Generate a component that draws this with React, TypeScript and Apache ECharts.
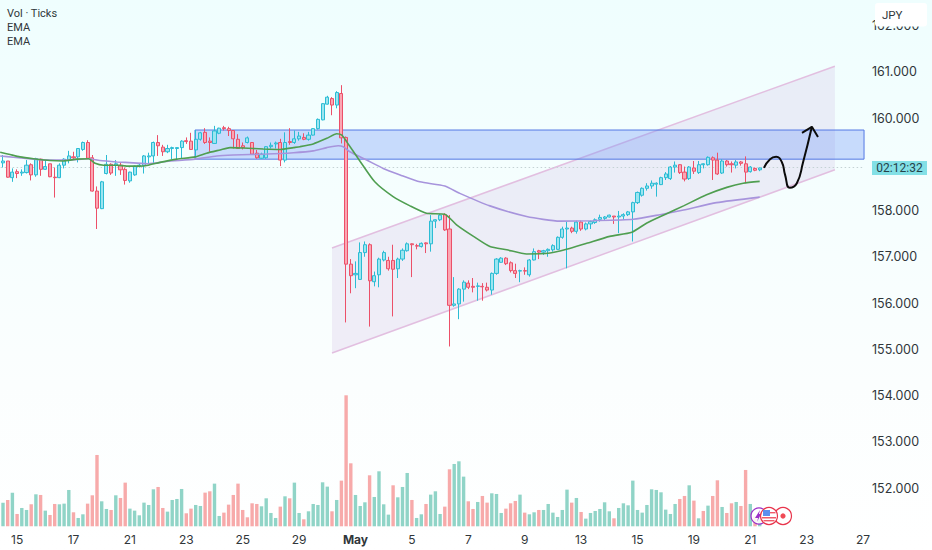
import React, { useEffect, useRef } from "react";
import * as echarts from "echarts";

// [open, close, low, high]
const candles: number[][] = [
[159.03,159.07,158.93,159.20],[159.07,158.72,158.71,159.07],[158.71,158.83,158.62,158.91],[158.84,158.80,158.70,158.89],[158.81,158.83,158.75,158.89],
[158.82,158.98,158.80,159.09],[158.99,158.77,158.65,159.02],[158.77,159.12,158.73,159.14],[159.11,158.89,158.75,159.12],[158.89,158.95,158.88,159.09],
[159.01,158.73,158.72,159.01],[158.72,158.71,158.28,158.93],[158.71,158.98,158.70,159.02],[158.98,159.11,158.91,159.13],[159.09,159.18,159.02,159.29],
[159.16,159.14,159.11,159.27],[159.16,159.34,159.04,159.35],[159.32,159.47,159.29,159.49],[159.47,159.13,159.12,159.52],[159.14,158.42,158.41,159.20],
[158.42,158.05,157.60,158.52],[158.04,158.62,158.03,158.64],[158.80,159.00,158.78,159.20],[159.00,158.81,158.77,159.02],[158.98,159.01,158.75,159.09],
[158.98,158.88,158.77,159.03],[158.89,158.65,158.56,158.93],[158.64,158.83,158.60,158.84],[158.77,158.96,158.75,158.97],[158.96,158.98,158.93,159.02],
[158.97,159.18,158.80,159.20],[159.16,159.18,159.02,159.25],[159.18,159.47,159.02,159.49],[159.47,159.40,159.18,159.63],[159.37,159.27,159.18,159.42],
[159.27,159.34,159.24,159.42],[159.34,159.36,159.11,159.38],[159.34,159.36,159.11,159.36],[159.36,159.50,159.13,159.52],[159.51,159.49,159.44,159.58],
[159.50,159.32,159.31,159.68],[159.31,159.54,159.15,159.74],[159.54,159.68,159.51,159.70],[159.69,159.47,159.44,159.78],[159.50,159.47,159.27,159.58],
[159.45,159.72,159.44,159.83],[159.67,159.78,159.65,159.79],[159.79,159.77,159.73,159.83],[159.77,159.73,159.61,159.81],[159.73,159.55,159.34,159.74],
[159.54,159.34,159.33,159.65],[159.40,159.36,159.32,159.47],[159.47,159.57,159.45,159.60],[159.47,159.22,159.20,159.48],[159.24,159.14,159.12,159.31],
[159.13,159.22,159.12,159.25],[159.14,159.38,159.12,159.39],[159.38,159.41,159.34,159.47],[159.44,159.46,159.34,159.49],[159.47,159.09,158.96,159.55],
[159.09,159.47,159.04,159.69],[159.49,159.47,159.42,159.78],[159.47,159.55,159.44,159.73],[159.55,159.61,159.51,159.70],[159.58,159.54,159.52,159.67],
[159.54,159.63,159.51,159.70],[159.63,159.77,159.62,159.78],[159.77,159.97,159.75,159.99],[159.96,160.31,159.95,160.32],[160.30,160.45,160.29,160.48],
[160.42,160.28,160.06,160.45],[160.28,160.55,160.21,160.58],[160.53,159.57,159.45,160.71],[159.58,156.84,155.58,159.60],[156.84,156.59,156.21,156.95],
[156.61,156.64,156.32,156.90],[156.51,157.09,156.50,157.31],[157.09,157.26,157.00,157.33],[157.26,156.48,155.49,157.29],[156.46,156.59,156.36,156.68],
[156.61,156.95,156.34,156.98],[156.93,157.09,156.90,157.13],[156.92,156.74,156.70,157.00],[156.92,156.73,155.71,157.26],[156.74,156.95,156.54,156.98],
[156.95,157.14,156.91,157.18],[157.13,157.28,157.11,157.31],[157.28,157.26,156.56,157.29],[157.24,157.23,157.16,157.28],[157.22,157.29,157.20,157.31],
[157.30,157.28,157.08,157.31],[157.28,157.77,157.11,157.90],[157.77,157.80,157.62,157.81],[157.80,157.90,157.77,157.93],[157.91,157.58,157.56,157.94],
[157.60,155.95,155.06,157.90],[155.95,155.98,155.92,156.56],[155.98,156.30,155.65,156.32],[156.30,156.45,156.03,156.49],[156.43,156.34,156.30,156.49],
[156.36,156.34,156.23,156.54],[156.36,156.37,156.05,156.44],[156.36,156.35,156.05,156.43],[156.34,156.28,156.25,156.44],[156.28,156.64,156.18,156.66],
[156.64,156.95,156.61,156.97],[156.88,156.97,156.87,156.99],[156.97,156.85,156.82,156.99],[156.87,156.70,156.66,156.90],[156.70,156.64,156.54,156.85],
[156.69,156.70,156.45,156.72],[156.70,156.69,156.61,156.77],[156.61,156.93,156.57,156.95],[156.93,157.11,156.92,157.18],[157.13,157.10,156.95,157.15],
[157.10,157.13,157.04,157.15],[157.13,157.16,157.00,157.18],[157.15,157.24,157.11,157.27],[157.16,157.42,157.15,157.44],[157.42,157.60,157.39,157.65],
[157.60,157.62,156.75,157.76],[157.62,157.55,157.51,157.65],[157.55,157.75,157.50,157.78],[157.75,157.60,157.56,157.78],[157.60,157.71,157.57,157.74],
[157.71,157.76,157.60,157.78],[157.74,157.80,157.71,157.83],[157.81,157.85,157.76,157.91],[157.83,157.86,157.78,157.88],[157.86,157.90,157.85,157.91],
[157.88,157.86,157.71,157.88],[157.86,157.88,157.51,157.99],[157.88,157.91,157.80,157.94],[157.91,157.97,157.88,157.99],[157.97,158.17,157.33,158.19],
[158.17,158.39,158.14,158.41],[158.33,158.48,158.30,158.50],[158.48,158.53,158.43,158.59],[158.53,158.59,158.47,158.65],[158.57,158.59,158.30,158.61],
[158.56,158.71,158.55,158.73],[158.71,158.79,158.66,158.83],[158.69,158.94,158.66,158.96],[158.94,158.98,158.82,159.06],[158.99,158.82,158.79,159.00],
[158.83,158.68,158.63,158.95],[158.69,158.94,158.66,158.96],[158.92,158.85,158.79,159.07],[158.82,158.99,158.79,159.07],[158.99,159.01,158.91,159.02],
[158.99,159.15,158.97,159.17],[159.14,159.09,158.66,159.17],[159.09,158.79,158.77,159.25],[158.81,159.07,158.79,159.11],[159.07,158.99,158.95,159.09],
[159.01,158.99,158.82,159.06],[158.98,159.05,158.91,159.09],[159.05,159.02,158.97,159.07],[159.01,158.83,158.59,159.17],[158.84,158.94,158.82,158.96],
[158.91,158.87,158.85,158.93],[158.88,158.92,158.85,158.93],
];

const volumes: number[] = [
71,79,101,37,55,49,66,96,94,47,34,67,66,68,109,42,25,36,68,93,214,75,52,49,93,85,131,53,47,33,71,64,111,118,55,44,79,82,112,39,53,64,61,101,105,128,31,41,65,94,128,49,27,69,67,60,84,40,25,59,90,84,131,40,21,45,67,64,132,119,45,79,137,393,189,94,61,72,153,88,165,66,35,123,87,
118,160,79,25,36,67,95,105,37,59,171,187,195,149,75,52,73,91,71,99,97,40,53,69,76,95,41,36,42,49,49,67,41,28,49,110,71,85,43,23,40,46,52,72,45,24,55,69,63,137,49,41,64,111,109,102,50,37,67,82,91,123,77,24,46,62,91,138,58,40,69,73,61,169,67,30,30,
];
// 1 = the volume bar is red
const volumeIsRed: number[] = [
0,1,0,1,0,0,1,0,1,0,1,1,0,0,0,1,0,0,1,1,1,0,0,1,0,1,1,0,0,0,0,0,0,1,1,0,0,0,0,1,1,0,0,1,1,0,0,1,1,1,1,1,1,1,1,0,0,0,0,1,0,1,0,0,1,0,0,0,0,0,1,0,1,1,1,0,0,0,1,0,0,0,0,1,0,
0,0,1,0,0,1,0,0,0,1,1,0,0,0,1,1,0,1,1,0,0,0,1,1,1,0,1,0,0,1,0,0,0,0,0,0,1,0,1,0,0,0,0,0,0,1,0,0,0,0,0,0,0,0,0,0,0,0,0,1,1,0,1,0,1,0,1,1,0,1,1,0,1,1,0,1,0,
];

const dayLabels = ["15","17","21","23","25","29","May","5","7","9","13","15","19","21","23","27"];
const barCount = 184;
const categories = Array.from({ length: barCount }, (_, i) => (i % 12 === 3 ? dayLabels[(i - 3) / 12] ?? "" : ""));

// [bar position, price]
const emaGreen: number[][] = [
[-0.6,159.26],[1.5,159.21],[3.6,159.16],[6.5,159.12],[10,159.08],[12.8,159.07],[15.7,159.11],[18.2,159.12],[19.6,159.02],[21.4,158.98],[24.2,158.98],[26.3,158.96],[29.1,158.96],[30.9,158.98],[33.4,159.04],[37,159.11],[40.9,159.16],[43.3,159.24],[46.2,159.31],[48.3,159.36],[51.1,159.35],[55.4,159.33],[59,159.32],[61.8,159.36],[63.2,159.38],[66,159.44],[68.9,159.56],[71,159.66],[72.1,159.63],[73.1,159.49],[76,159.06],[79.1,158.62],[83,158.30],[86.6,158.10],[90.1,157.94],[94,157.92],[96.5,157.69],[100.1,157.44],[103.6,157.22],[107.2,157.15],[111.4,157.06],[116.4,157.08],[119.9,157.16],[124.2,157.29],[129.1,157.44],[133.8,157.53],[137,157.73],[141.2,157.93],[144.8,158.10],[149.7,158.34],[154,158.50],[157.5,158.59],[161,158.63],
];
const emaPurple: number[][] = [
[-0.6,159.18],[2.2,159.15],[6.5,159.11],[10,159.09],[13.5,159.09],[18.2,159.12],[20.6,159.08],[24.2,159.05],[27.7,159.03],[30.9,159.01],[34.8,159.06],[40.9,159.11],[45.5,159.18],[49,159.20],[56.1,159.22],[61.8,159.25],[66,159.29],[68.9,159.36],[71.3,159.40],[72.4,159.38],[73.8,159.27],[77.4,159.09],[80.9,158.91],[84.5,158.77],[88.7,158.62],[94,158.53],[97.2,158.37],[103.6,158.10],[111.4,157.87],[118.5,157.77],[125.6,157.78],[134.1,157.81],[139.8,157.91],[144.8,158.01],[151.8,158.17],[161,158.29],
];

const channelX = [70, 177];
const channelUpper = [157.19, 161.12];
const channelLower = [154.92, 158.88];
const zoneX = [40.85, 183.2];
const zonePrice = [159.11, 159.74];
const lastPrice = 158.93;
const lastLine = [[-0.5, lastPrice], [183.2, lastPrice]];
const arrowCurve: number[][] = [[161.9,158.92],[163.2,159.11],[164.5,159.16],[165.7,159.05],[166.4,158.77],[167.4,158.49],[168.9,158.59],[170.2,159.03],[172.1,159.81]];
const arrowHead: number[][] = [[170,159.68],[172.1,159.81],[173.4,159.59]];

export default function App() {
  const ref = useRef<HTMLDivElement>(null);
  useEffect(() => {
    document.body.style.margin = "0";
    const chart = echarts.init(ref.current!, undefined, { renderer: "svg" });
    const font = "Inter, Roboto, sans-serif";
    const sideFont = "Roboto, sans-serif";
    const textColor = "#30363a";
    const overlayAxis = { xAxisIndex: 2, yAxisIndex: 0 };
    chart.setOption({
      animation: false,
      backgroundColor: { type: "linear", x: 0, y: 0, x2: 0, y2: 1, colorStops: [
        { offset: 0, color: "#effefe" }, { offset: 0.7, color: "#fbfefe" }, { offset: 1, color: "#ffffff" },
      ] },
      grid: [
        { left: 0.65, width: 4.7 * barCount, top: 25.5, height: 462.5 },
        { left: 0.65, width: 4.7 * barCount, top: 395.3, height: 131 },
      ],
      xAxis: [
        { type: "category", gridIndex: 0, data: categories, show: false },
        { type: "category", gridIndex: 1, data: categories,
          axisLine: { show: false }, axisTick: { show: false },
          axisLabel: { interval: (i: number) => i % 12 === 3, margin: 7, fontSize: 12, color: textColor, fontFamily: font,
            formatter: (v: string) => (v === "May" ? "{b|May}" : v),
            rich: { b: { fontWeight: "bold", fontSize: 12, color: textColor, fontFamily: font } } } },
        { type: "value", gridIndex: 0, min: -0.5, max: barCount - 0.5, show: false },
      ],
      yAxis: [
        { type: "value", gridIndex: 0, position: "right", min: 152, max: 162, interval: 1,
          axisLine: { show: false }, axisTick: { show: false }, splitLine: { show: false },
          axisLabel: { margin: 6.5, fontSize: 12.5, color: textColor, fontFamily: font,
            // 159.000 lies wholly behind the countdown box in the reference
            formatter: (v: number) => (v === 159 ? "" : v.toFixed(3)) } },
        { type: "value", gridIndex: 1, min: 0, max: 393, show: false, splitLine: { show: false } },
      ],
      series: [
        { type: "custom", ...overlayAxis, z: 1, silent: true, clip: false, data: [[channelX[0], channelUpper[0]]],
          renderItem: (_: any, api: any) => {
            const a = api.coord([channelX[0], channelUpper[0]]);
            const b = api.coord([channelX[1], channelUpper[1]]);
            const c = api.coord([channelX[1], channelLower[1]]);
            const d = api.coord([channelX[0], channelLower[0]]);
            const edge = { stroke: "#e2bfe0", lineWidth: 1.5 };
            return { type: "group", children: [
              { type: "polygon", shape: { points: [a, b, c, d] }, style: { fill: "rgba(184,140,208,0.15)" } },
              { type: "line", shape: { x1: a[0], y1: a[1], x2: b[0], y2: b[1] }, style: edge },
              { type: "line", shape: { x1: d[0], y1: d[1], x2: c[0], y2: c[1] }, style: edge },
            ] };
          } },
        { type: "custom", ...overlayAxis, z: 2, silent: true, clip: false, data: [[zoneX[0], zonePrice[0]]],
          renderItem: (_: any, api: any) => {
            const a = api.coord([zoneX[0], zonePrice[1]]);
            const b = api.coord([zoneX[1], zonePrice[0]]);
            return { type: "rect", shape: { x: a[0], y: a[1], width: b[0] - a[0], height: b[1] - a[1] },
              style: { fill: "rgba(110,150,250,0.33)", stroke: "#5478e4", lineWidth: 1 } };
          } },
        { type: "line", ...overlayAxis, z: 2, data: lastLine, showSymbol: false, silent: true,
          lineStyle: { color: "#c4d2d4", width: 1, type: [1.5, 2.5] } },
        { type: "candlestick", xAxisIndex: 0, yAxisIndex: 0, z: 3, data: candles, barWidth: 3.6,
          itemStyle: { color: "#9be5f0", color0: "#fbA6b3", borderColor: "#2bbcd4", borderColor0: "#ec5069", borderWidth: 1 } },
        { type: "line", ...overlayAxis, z: 4, name: "EMA", data: emaPurple, showSymbol: false, smooth: 0.2,
          lineStyle: { color: "#a794dc", width: 1.6 } },
        { type: "line", ...overlayAxis, z: 5, name: "EMA", data: emaGreen, showSymbol: false, smooth: 0.2,
          lineStyle: { color: "#4f9e50", width: 1.6 } },
        { type: "line", ...overlayAxis, z: 6, data: arrowCurve, showSymbol: false, smooth: 0.5, clip: false,
          lineStyle: { color: "#0b0b0b", width: 2 } },
        { type: "line", ...overlayAxis, z: 6, data: arrowHead, showSymbol: false, clip: false,
          lineStyle: { color: "#0b0b0b", width: 2 } },
        { type: "bar", xAxisIndex: 1, yAxisIndex: 1, z: 2, barWidth: 3.4,
          data: volumes.map((v, i) => ({ value: v, itemStyle: { color: volumeIsRed[i] ? "#f7aaaa" : "#90d4c7" } })) },
      ],
      graphic: [
        { type: "text", x: 7, y: 7.5, style: { text: "Vol · Ticks", font: `11px ${sideFont}`, fill: textColor } },
        { type: "text", x: 7, y: 21.5, style: { text: "EMA", font: `11px ${sideFont}`, fill: textColor } },
        { type: "text", x: 7, y: 35.5, style: { text: "EMA", font: `11px ${sideFont}`, fill: textColor } },
        { type: "rect", z: 100, shape: { x: 875, y: 3, width: 52, height: 23.5, r: 3 }, style: { fill: "#ffffff" } },
        { type: "text", z: 101, x: 882, y: 8.5, style: { text: "JPY", font: `11.5px ${sideFont}`, fill: textColor } },
        { type: "rect", z: 100, shape: { x: 872, y: 161, width: 55, height: 14 }, style: { fill: "#83e0e6" } },
        { type: "text", z: 101, x: 899.5, y: 168, style: { text: "02:12:32", font: `12px ${sideFont}`, fill: "#26424a", align: "center", verticalAlign: "middle" } },
        { type: "circle", z: 100, shape: { cx: 759, cy: 516, r: 8 }, style: { fill: "rgba(255,255,255,0.85)", stroke: "#9b30c8", lineWidth: 1.2 } },
        { type: "polygon", z: 100, shape: { points: [[760, 510], [755, 518], [758, 518], [757, 522], [761, 514], [759, 514]] }, style: { fill: "#9b30c8" } },
        { type: "circle", z: 100, shape: { cx: 783, cy: 516, r: 8.5 }, style: { fill: "rgba(255,255,255,0.85)", stroke: "#e8354c", lineWidth: 1.2 } },
        { type: "circle", z: 100, shape: { cx: 783, cy: 516, r: 2.6 }, style: { fill: "#f04a55" } },
        { type: "circle", z: 100, shape: { cx: 769, cy: 516, r: 8.5 }, style: { fill: "#ffffff", stroke: "#e8354c", lineWidth: 1.2 } },
        { type: "rect", z: 101, shape: { x: 763, y: 510, width: 7, height: 6 }, style: { fill: "#5c8fee" } },
        { type: "rect", z: 101, shape: { x: 770, y: 512, width: 5.5, height: 1.4 }, style: { fill: "#ef5a6a" } },
        { type: "rect", z: 101, shape: { x: 762, y: 517, width: 14, height: 1.5 }, style: { fill: "#ef5a6a" } },
        { type: "rect", z: 101, shape: { x: 763.5, y: 520, width: 11, height: 1.4 }, style: { fill: "#ef5a6a" } },
      ],
    });
    return () => chart.dispose();
  }, []);
  return <div ref={ref} style={{ width: 932, height: 550, position: "absolute", left: 0, top: 0 }} />;
}
